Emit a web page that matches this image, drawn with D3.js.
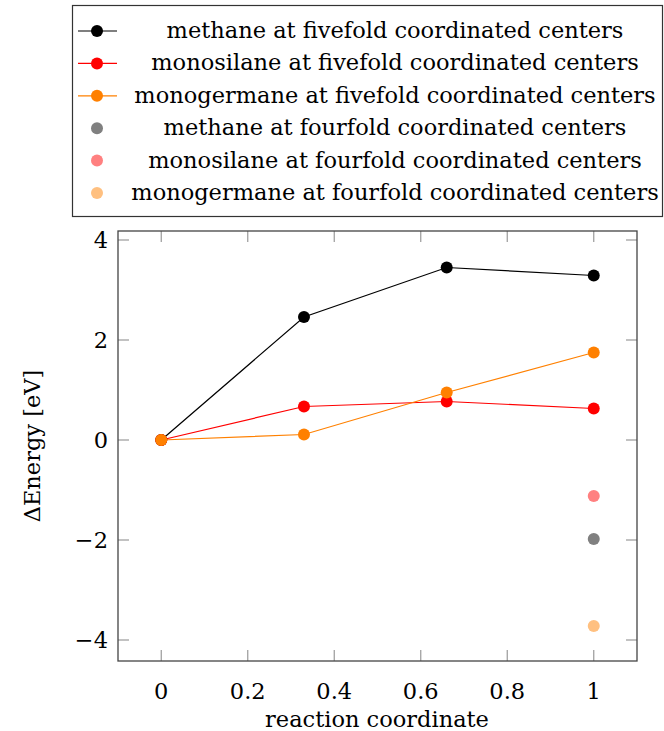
<!DOCTYPE html>
<html>
<head>
<meta charset="utf-8">
<script src="https://cdn.jsdelivr.net/npm/d3@7"></script>
<style>
  body { margin: 0; background: #fff; }
  text { font-family: "DejaVu Serif", serif; }
</style>
</head>
<body>
<div id="chart"></div>
<script>
// datos
const xs = [0, 0.33, 0.66, 1];
const methane5 = [0, 2.46, 3.45, 3.29];
const silane5 = [0, 0.67, 0.77, 0.63];
const germane5 = [0, 0.11, 0.95, 1.75];
const fourX = [1];
const methane4 = [-1.98];
const silane4 = [-1.12];
const germane4 = [-3.72];
const xTicks = [0, 0.2, 0.4, 0.6, 0.8, 1];
const yTicks = [-4, -2, 0, 2, 4];

const lineSeries = [
  { name: 'methane at fivefold coordinated centers', ys: methane5, color: '#000000' },
  { name: 'monosilane at fivefold coordinated centers', ys: silane5, color: '#ff0000' },
  { name: 'monogermane at fivefold coordinated centers', ys: germane5, color: '#ff8000' }
];
const dotSeries = [
  { name: 'methane at fourfold coordinated centers', ys: methane4, color: '#808080' },
  { name: 'monosilane at fourfold coordinated centers', ys: silane4, color: '#ff8080' },
  { name: 'monogermane at fourfold coordinated centers', ys: germane4, color: '#ffc080' }
];

const W = 664, H = 731;
const m = { left: 118, right: 637, top: 231, bottom: 661 };
const fs = 22.5;

const svg = d3.select('#chart').append('svg')
  .attr('width', W).attr('height', H);

const x = d3.scaleLinear().domain([-0.1, 1.1]).range([m.left, m.right]);
const y = d3.scaleLinear().domain([-4.42, 4.18]).range([m.bottom, m.top]);

// ticks (dentro del marco, en los cuatro lados)
const tk = 11;
const g = svg.append('g');
g.selectAll('.xt').data(xTicks).join('g').each(function(d) {
  const s = d3.select(this);
  s.append('line').attr('x1', x(d)).attr('x2', x(d)).attr('y1', m.bottom).attr('y2', m.bottom - tk);
  s.append('line').attr('x1', x(d)).attr('x2', x(d)).attr('y1', m.top).attr('y2', m.top + tk);
}).selectAll('line').attr('stroke', '#999').attr('stroke-width', 1.2);
g.selectAll('.yt').data(yTicks).join('g').each(function(d) {
  const s = d3.select(this);
  s.append('line').attr('x1', m.left).attr('x2', m.left + tk).attr('y1', y(d)).attr('y2', y(d));
  s.append('line').attr('x1', m.right).attr('x2', m.right - tk).attr('y1', y(d)).attr('y2', y(d));
}).selectAll('line').attr('stroke', '#999').attr('stroke-width', 1.2);

// etiquetas de ticks
svg.selectAll('.xl').data(xTicks).join('text')
  .attr('x', d => x(d)).attr('y', 699)
  .attr('text-anchor', 'middle').attr('font-size', fs)
  .text(d => d3.format('')(d));
svg.selectAll('.yl').data(yTicks).join('text')
  .attr('x', 108).attr('y', d => y(d) + 8)
  .attr('text-anchor', 'end').attr('font-size', fs)
  .text(d => d < 0 ? '\u2212' + Math.abs(d) : d);

// marco
svg.append('rect')
  .attr('x', m.left).attr('y', m.top)
  .attr('width', m.right - m.left).attr('height', m.bottom - m.top)
  .attr('fill', 'none').attr('stroke', '#444').attr('stroke-width', 1.3);

// series
const line = d3.line().x((d, i) => x(xs[i])).y(d => y(d));
lineSeries.forEach(s => {
  svg.append('path').datum(s.ys).attr('d', line)
    .attr('fill', 'none').attr('stroke', s.color).attr('stroke-width', 1.2);
});
lineSeries.forEach(s => {
  svg.append('g').selectAll('circle').data(s.ys).join('circle')
    .attr('cx', (d, i) => x(xs[i])).attr('cy', d => y(d)).attr('r', 6)
    .attr('fill', s.color);
});
dotSeries.forEach(s => {
  svg.append('g').selectAll('circle').data(s.ys).join('circle')
    .attr('cx', (d, i) => x(fourX[i])).attr('cy', d => y(d)).attr('r', 6)
    .attr('fill', s.color);
});

// títulos de ejes
svg.append('text').attr('x', 377).attr('y', 727)
  .attr('text-anchor', 'middle').attr('font-size', fs).text('reaction coordinate');
svg.append('text').attr('transform', 'translate(40,446) rotate(-90)')
  .attr('text-anchor', 'middle').attr('font-size', fs).text('\u0394Energy [eV]');

// leyenda
const leg = svg.append('g');
leg.append('rect').attr('x', 72.5).attr('y', 5.5).attr('width', 590).attr('height', 211)
  .attr('fill', '#fff').attr('stroke', '#333').attr('stroke-width', 1.2);
const all = lineSeries.map(s => ({ ...s, line: true })).concat(dotSeries.map(s => ({ ...s, line: false })));
all.forEach((s, i) => {
  const cy = 31 + i * 32.4;
  if (s.line) leg.append('line').attr('x1', 78).attr('x2', 117).attr('y1', cy).attr('y2', cy)
    .attr('stroke', s.color).attr('stroke-width', 1.2);
  leg.append('circle').attr('cx', 97).attr('cy', cy).attr('r', 6).attr('fill', s.color);
  leg.append('text').attr('x', 395).attr('y', cy + 7).attr('text-anchor', 'middle')
    .attr('font-size', fs).text(s.name);
});
</script>
</body>
</html>
